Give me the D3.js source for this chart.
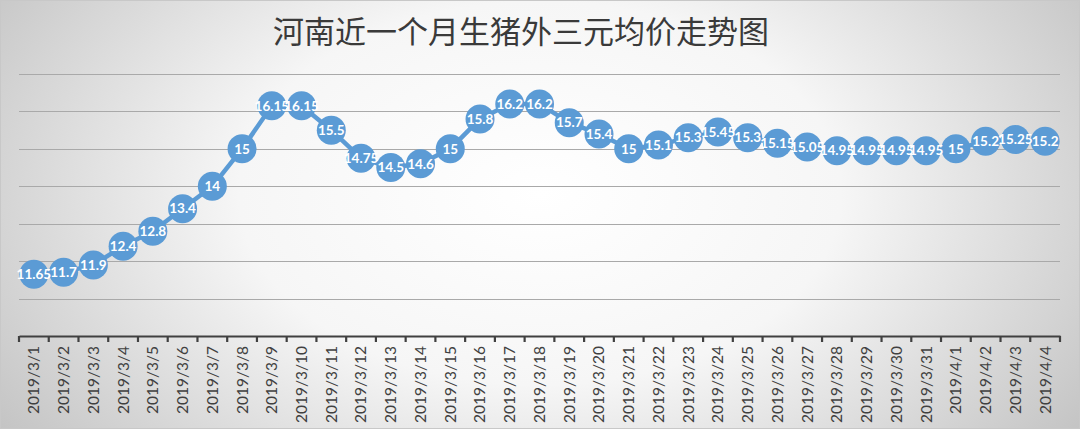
<!DOCTYPE html>
<html><head><meta charset="utf-8">
<script src="https://cdn.jsdelivr.net/npm/d3@7"></script>
<style>
html,body{margin:0;padding:0;overflow:hidden;background:#fff}
svg{display:block}
</style></head>
<body>
<svg id="chart" width="1080" height="429"></svg>
<script>
const title = "河南近一个月生猪外三元均价走势图";
const dates = ["2019/3/1","2019/3/2","2019/3/3","2019/3/4","2019/3/5","2019/3/6","2019/3/7","2019/3/8","2019/3/9","2019/3/10","2019/3/11","2019/3/12","2019/3/13","2019/3/14","2019/3/15","2019/3/16","2019/3/17","2019/3/18","2019/3/19","2019/3/20","2019/3/21","2019/3/22","2019/3/23","2019/3/24","2019/3/25","2019/3/26","2019/3/27","2019/3/28","2019/3/29","2019/3/30","2019/3/31","2019/4/1","2019/4/2","2019/4/3","2019/4/4"];
const prices = [11.65,11.7,11.9,12.4,12.8,13.4,14,15,16.15,16.15,15.5,14.75,14.5,14.6,15,15.8,16.2,16.2,15.7,15.4,15,15.1,15.3,15.45,15.3,15.15,15.05,14.95,14.95,14.95,14.95,15,15.2,15.25,15.2];
const yTicks = [10,11,12,13,14,15,16,17];

const W = 1080, H = 429;
const svg = d3.select("#chart");
const defs = svg.append("defs");
const grad = defs.append("radialGradient").attr("id","bg")
  .attr("cx","50%").attr("cy","45%").attr("r","62%")
  .attr("gradientTransform","translate(0.5,0.45) scale(1,1.6) translate(-0.5,-0.45)");
grad.append("stop").attr("offset","0%").attr("stop-color","#ffffff");
grad.append("stop").attr("offset","45%").attr("stop-color","#f6f6f6");
grad.append("stop").attr("offset","100%").attr("stop-color","#c2c2c2");
svg.append("rect").attr("width",W).attr("height",H).attr("fill","url(#bg)");
svg.append("rect").attr("x",0.5).attr("y",0.5).attr("width",W-1).attr("height",H-1)
  .attr("fill","none").attr("stroke","#c8c8c8");

const margin = {left:19, right:20, top:74, bottom:93};
const x = d3.scaleBand().domain(dates).range([margin.left, W - margin.right]).padding(0);
const y = d3.scaleLinear().domain([10,17]).range([H - margin.bottom, margin.top]);

// gridlines
svg.append("g").selectAll("line").data(yTicks.filter(d=>d>10)).join("line")
  .attr("x1", margin.left).attr("x2", W - margin.right)
  .attr("y1", d=>Math.round(y(d))+0.5).attr("y2", d=>Math.round(y(d))+0.5)
  .attr("stroke","#a9a9a9").attr("stroke-width",1.2);

// x axis
const xAxis = d3.axisBottom(x).tickSize(0).tickPadding(0);
const gx = svg.append("g").attr("transform",`translate(0,${y(10)})`).call(xAxis);
gx.select(".domain").attr("stroke","#404040").attr("stroke-width",2.2);
gx.selectAll(".tick text")
  .attr("transform","rotate(-90)")
  .attr("text-anchor","end")
  .attr("x",-10).attr("y",0).attr("dy","0.35em")
  .attr("fill","#404040")
  .style("font-family","Lato, 'Open Sans', sans-serif")
  .style("font-size","15.5px");
// boundary ticks
const bounds = dates.map(d=>x(d)).concat([x(dates[dates.length-1]) + x.bandwidth()]);
gx.append("g").selectAll("line").data(bounds).join("line")
  .attr("x1",d=>d).attr("x2",d=>d).attr("y1",0).attr("y2",6)
  .attr("stroke","#404040").attr("stroke-width",2.2);

// line
const cx = d => x(d) + x.bandwidth()/2;
const line = d3.line().x((d,i)=>cx(dates[i])).y(d=>y(d));
svg.append("path").datum(prices).attr("d",line)
  .attr("fill","none").attr("stroke","#5b9bd5").attr("stroke-width",4.5).attr("stroke-linejoin","round");

svg.append("g").selectAll("circle").data(prices).join("circle")
  .attr("cx",(d,i)=>cx(dates[i])).attr("cy",d=>y(d)).attr("r",14.5)
  .attr("fill","#5b9bd5");

svg.append("g").selectAll("text").data(prices).join("text")
  .attr("x",(d,i)=>cx(dates[i])).attr("y",d=>y(d)).attr("dy","0.35em")
  .attr("text-anchor","middle").attr("fill","#ffffff")
  .style("font-family","Lato, 'Open Sans', sans-serif")
  .style("font-weight","bold").style("font-size","13.5px")
  .text(d=>d);

// title
svg.append("text").attr("x",521).attr("y",43).attr("text-anchor","middle")
  .attr("fill","#3a3a3a")
  .style("font-family","'Noto Sans CJK SC', sans-serif")
  .style("font-size","31px")
  .text(title);
</script>
</body></html>
